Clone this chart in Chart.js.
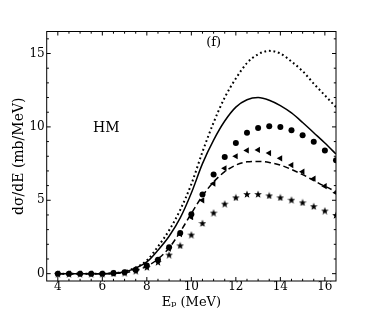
<!DOCTYPE html>
<html>
<head>
<meta charset="utf-8">
<script src="https://cdn.jsdelivr.net/npm/chart.js@4"></script>
<style>
  html, body { margin: 0; padding: 0; background: #fff; }
  #wrap { width: 374px; height: 312px; position: relative; }
</style>
</head>
<body>
<div id="wrap"><canvas id="c"></canvas></div>
<script>
// ---- data ----
const energies = [4,4.5,5,5.5,6,6.5,7,7.5,8,8.5,9,9.5,10,10.5,11,11.5,12,12.5,13,13.5,14,14.5,15,15.5,16,16.5];
const dottedCurve = [0,0,0,0,0,0.03,0.15,0.42,0.9,1.85,2.95,4.35,6.1,8.3,10.3,12.0,13.3,14.35,14.95,15.18,15.0,14.45,13.8,12.95,12.15,11.35];
const solidCurve  = [0,0,0,0,0,0.02,0.13,0.38,0.8,1.6,2.55,3.8,5.5,7.5,9.1,10.4,11.35,11.85,12.0,11.82,11.45,10.95,10.3,9.6,8.9,8.15];
const dashedCurve = [0,0,0,0,0,0.02,0.08,0.22,0.5,1.0,1.75,2.85,4.1,5.3,6.25,6.95,7.4,7.62,7.65,7.58,7.4,7.1,6.75,6.35,5.95,5.6];
const circles     = [0,0,0,0,0,0.05,0.1,0.27,0.55,0.95,1.8,2.77,4.05,5.4,6.75,7.95,8.9,9.6,9.93,10.05,10.0,9.77,9.43,8.98,8.4,7.73];
const triangles   = [0,0,0,0,0,0.03,0.08,0.22,0.5,0.95,1.7,2.7,3.85,5.0,6.14,7.18,8.0,8.4,8.43,8.22,7.86,7.4,6.95,6.47,5.96,5.52];
const stars       = [0,0,0,0,0,0.02,0.07,0.2,0.45,0.8,1.3,1.93,2.66,3.45,4.16,4.77,5.2,5.43,5.43,5.33,5.2,5.04,4.86,4.6,4.3,4.0];
const xTickValues = [4,6,8,10,12,14,16];
const yTickValues = [0,5,10,15];
const xLabel = 'E\u209A (MeV)';
const yLabel = 'd\u03C3/dE (mb/MeV)';
const panelTag = '(f)';
const modelTag = 'HM';

const serif = '"DejaVu Serif", "Liberation Serif", serif';

function pairs(ys) { return energies.map((e, i) => ({x: e, y: ys[i]})); }

// filled five-point star marker
function makeStar(size) {
  const cv = document.createElement('canvas');
  cv.width = size; cv.height = size;
  const g = cv.getContext('2d');
  const cx = size / 2, cy = size / 2, R = size / 2, r = R * 0.42;
  g.beginPath();
  for (let k = 0; k < 10; k++) {
    const rad = (k % 2 === 0) ? R : r;
    const a = -Math.PI / 2 + k * Math.PI / 5;
    const px = cx + rad * Math.cos(a), py = cy + 0.5 + rad * Math.sin(a);
    if (k === 0) g.moveTo(px, py); else g.lineTo(px, py);
  }
  g.closePath();
  g.fillStyle = '#000';
  g.fill();
  return cv;
}
const starImg = makeStar(8);

const framePlugin = {
  id: 'frame',
  afterDatasetsDraw(chart) {
    const {ctx, chartArea: a, scales: {x, y}} = chart;
    ctx.save();
    ctx.strokeStyle = '#000';
    ctx.lineWidth = 1;
    ctx.strokeRect(a.left, a.top, a.right - a.left, a.bottom - a.top);
    ctx.beginPath();
    // x ticks every 0.5, majors at even numbers
    for (let v = 3.5; v <= 16.5 + 1e-9; v += 0.5) {
      const px = x.getPixelForValue(v);
      if (px <= a.left + 0.5 || px >= a.right - 0.5) continue;
      const major = xTickValues.includes(v);
      const len = major ? 4 : 2.2;
      ctx.moveTo(px, a.bottom); ctx.lineTo(px, a.bottom - len);
      ctx.moveTo(px, a.top); ctx.lineTo(px, a.top + len);
    }
    for (let v = 0; v <= 16; v += 1) {
      const py = y.getPixelForValue(v);
      const major = yTickValues.includes(v);
      const len = major ? 4 : 2.2;
      ctx.moveTo(a.left, py); ctx.lineTo(a.left + len, py);
      ctx.moveTo(a.right, py); ctx.lineTo(a.right - len, py);
    }
    ctx.stroke();
    // annotations
    ctx.fillStyle = '#000';
    ctx.textAlign = 'center';
    ctx.textBaseline = 'middle';
    ctx.font = '14px ' + serif;
    ctx.fillText(modelTag, x.getPixelForValue(6.18), y.getPixelForValue(9.88));
    ctx.font = '13px ' + serif;
    ctx.fillText(panelTag, x.getPixelForValue(11.0), y.getPixelForValue(15.73));
    ctx.restore();
  }
};

new Chart(document.getElementById('c'), {
  type: 'line',
  data: {
    datasets: [
      { data: pairs(dottedCurve), borderColor: '#000', borderWidth: 2, borderDash: [1.8, 2.8], pointRadius: 0, cubicInterpolationMode: 'monotone', fill: false },
      { data: pairs(solidCurve), borderColor: '#000', borderWidth: 1.5, pointRadius: 0, cubicInterpolationMode: 'monotone', fill: false },
      { data: pairs(dashedCurve), borderColor: '#000', borderWidth: 1.5, borderDash: [6, 3.5], pointRadius: 0, cubicInterpolationMode: 'monotone', fill: false },
      { data: pairs(stars), showLine: false, pointStyle: starImg, pointRadius: 4, backgroundColor: '#000', borderColor: '#000' },
      { data: pairs(triangles), showLine: false, pointStyle: 'triangle', rotation: -90, pointRadius: 3.6, backgroundColor: '#000', borderColor: '#000', borderWidth: 0 },
      { data: pairs(circles), showLine: false, pointStyle: 'circle', pointRadius: 3, backgroundColor: '#000', borderColor: '#000', borderWidth: 0 }
    ]
  },
  options: {
    responsive: true,
    maintainAspectRatio: false,
    animation: false,
    devicePixelRatio: 1,
    layout: { padding: { top: 31.5, right: 38, bottom: 0, left: 0 } },
    plugins: { legend: { display: false }, tooltip: { enabled: false } },
    scales: {
      x: {
        type: 'linear', min: 3.5, max: 16.5,
        afterBuildTicks: s => { s.ticks = xTickValues.map(v => ({value: v})); },
        afterFit: s => { s.height = 31; },
        grid: { display: false, drawTicks: false },
        border: { display: false },
        ticks: { color: '#000', padding: 0, maxRotation: 0, font: { family: serif, size: 12, lineHeight: 1.0 } },
        title: { display: true, text: xLabel, color: '#000', font: { family: serif, size: 13 }, padding: { top: 0, bottom: 2 } }
      },
      y: {
        type: 'linear', min: -0.5, max: 16.5,
        afterBuildTicks: s => { s.ticks = yTickValues.map(v => ({value: v})); },
        afterFit: s => { s.width = 46.7; },
        grid: { display: false, drawTicks: false },
        border: { display: false },
        ticks: { color: '#000', padding: 2, font: { family: serif, size: 12 } },
        title: { display: true, text: yLabel, color: '#000', font: { family: serif, size: 14 }, padding: { top: 11, bottom: 0 } }
      }
    }
  },
  plugins: [framePlugin]
});
</script>
</body>
</html>
